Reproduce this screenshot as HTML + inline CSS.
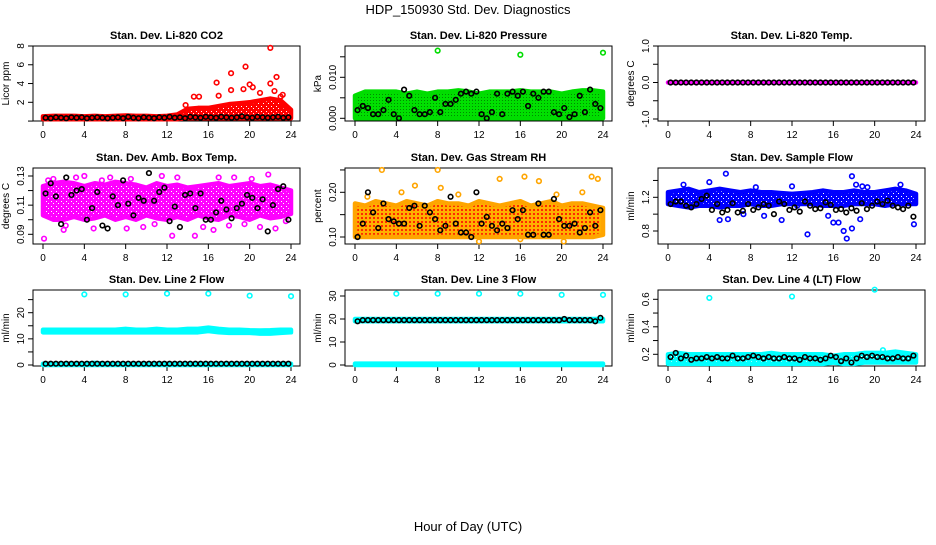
<!DOCTYPE html>
<html><head><meta charset="utf-8"><style>
html,body{margin:0;padding:0;background:#fff}
svg text{font-family:"Liberation Sans",Arial,sans-serif}
</style></head><body>
<svg id="c" width="936" height="540" viewBox="0 0 936 540" xmlns="http://www.w3.org/2000/svg">
<text x="468" y="14" font-size="13" text-anchor="middle">HDP_150930  Std. Dev. Diagnostics</text>
<text x="468" y="531" font-size="13" text-anchor="middle">Hour of Day (UTC)</text>
</svg>
<script>
// ---- data (hourly band envelopes: index = hour 0..24; black series: half-hourly) ----
const co2Lo=[0.2,0.2,0.2,0.2,0.2,0.2,0.2,0.2,0.2,0.2,0.2,0.2,0.2,0.2,0.3,0.3,0.3,0.3,0.3,0.3,0.3,0.3,0.3,0.3,0.3];
const co2Hi=[0.5,0.55,0.55,0.55,0.5,0.55,0.5,0.55,0.6,0.55,0.55,0.5,0.55,0.7,1.3,1.4,1.4,1.6,1.8,1.9,2.0,2.2,2.4,2.2,1.2];
const co2OutX=[13.8,14.6,15.1,16.8,17.0,18.2,18.2,19.4,19.6,20.0,20.3,21.0,22.0,22.0,22.4,22.6,23.0,23.2,23.3];
const co2OutY=[1.7,2.6,2.6,4.1,2.7,3.3,5.1,3.4,5.8,3.9,3.6,3.0,7.8,4.0,3.2,4.7,2.6,2.8,1.5];
const co2Black=[0.35,0.3,0.4,0.35,0.3,0.4,0.35,0.4,0.3,0.35,0.4,0.35,0.3,0.35,0.4,0.3,0.45,0.35,0.3,0.4,0.35,0.3,0.4,0.35,0.45,0.35,0.4,0.3,0.45,0.4,0.35,0.45,0.4,0.35,0.45,0.4,0.35,0.4,0.5,0.4,0.35,0.45,0.4,0.35,0.4,0.45,0.35,0.4];

const presLo=[0,0,0,0,0,0,0,0,0,0,0,0,0,0,0,0,0,0,0,0,0,0,0,0,0];
const presHi=[0.0055,0.0065,0.0065,0.0065,0.0065,0.006,0.0065,0.006,0.0065,0.0065,0.0068,0.0065,0.006,0.0065,0.0065,0.0065,0.0068,0.0065,0.0065,0.0065,0.006,0.0065,0.0068,0.0068,0.0065];
const presOutX=[8,16,24];
const presOutY=[0.0165,0.0155,0.016];
const presBlack=[0.002,0.003,0.0025,0.001,0.001,0.002,0.0045,0.001,0,0.007,0.0055,0.002,0.001,0.001,0.0015,0.005,0.0015,0.0035,0.0035,0.0045,0.006,0.0065,0.006,0.0065,0.001,0,0.0015,0.006,0.001,0.006,0.0065,0.0055,0.0065,0.003,0.006,0.005,0.0065,0.0065,0.0015,0.001,0.0025,0.0003,0.001,0.0055,0.0015,0.007,0.0035,0.0025];

const tempLo=[0,0,0,0,0,0,0,0,0,0,0,0,0,0,0,0,0,0,0,0,0,0,0,0,0];
const tempHi=[0,0,0,0,0,0,0,0,0,0,0,0,0,0,0,0,0,0,0,0,0,0,0,0,0];
const tempBlack=[0,0,0,0,0,0,0,0,0,0,0,0,0,0,0,0,0,0,0,0,0,0,0,0,0,0,0,0,0,0,0,0,0,0,0,0,0,0,0,0,0,0,0,0,0,0,0,0];

const boxLo=[0.103,0.1,0.1,0.102,0.1,0.101,0.103,0.1,0.102,0.1,0.103,0.101,0.1,0.102,0.1,0.103,0.101,0.1,0.103,0.102,0.1,0.103,0.101,0.102,0.104];
const boxHi=[0.123,0.125,0.126,0.125,0.123,0.125,0.124,0.126,0.125,0.124,0.122,0.125,0.123,0.124,0.122,0.123,0.124,0.125,0.123,0.124,0.125,0.123,0.124,0.122,0.12];
const boxOutX=[0.1,0.5,1,2,2.2,3.2,4,4.9,5.7,6.5,8.1,8.5,9.7,10.8,11.5,12.5,13,14.7,15.5,16.5,17,18,18.5,19.5,20.2,21,21.8,22.5,23.5];
const boxOutY=[0.087,0.127,0.128,0.093,0.096,0.129,0.13,0.094,0.127,0.129,0.094,0.128,0.095,0.097,0.13,0.089,0.129,0.089,0.095,0.093,0.129,0.096,0.129,0.097,0.128,0.095,0.131,0.094,0.099];
const boxBlack=[0.118,0.125,0.116,0.097,0.129,0.117,0.12,0.121,0.1,0.108,0.119,0.096,0.094,0.116,0.11,0.127,0.111,0.103,0.115,0.113,0.132,0.113,0.119,0.122,0.099,0.109,0.095,0.117,0.118,0.108,0.118,0.1,0.1,0.105,0.113,0.107,0.101,0.108,0.111,0.117,0.115,0.108,0.114,0.092,0.11,0.121,0.123,0.1];

const rhLo=[0.1,0.1,0.1,0.1,0.1,0.1,0.1,0.1,0.1,0.1,0.1,0.1,0.1,0.1,0.1,0.1,0.1,0.1,0.1,0.1,0.1,0.1,0.1,0.1,0.105];
const rhHi=[0.175,0.17,0.18,0.175,0.17,0.18,0.175,0.17,0.18,0.175,0.175,0.17,0.18,0.175,0.17,0.175,0.18,0.17,0.175,0.18,0.17,0.175,0.175,0.17,0.165];
const rhOutX=[1.2,2.6,4.5,5.8,8,8.3,10,12,14,16,16.4,17.8,19.5,20.2,22,22.9,23.5];
const rhOutY=[0.19,0.25,0.2,0.215,0.25,0.21,0.195,0.09,0.23,0.095,0.235,0.225,0.195,0.09,0.2,0.235,0.23];
const rhBlack=[0.1,0.13,0.2,0.155,0.12,0.175,0.14,0.135,0.13,0.13,0.165,0.17,0.125,0.17,0.155,0.14,0.115,0.125,0.19,0.13,0.11,0.11,0.1,0.2,0.13,0.145,0.125,0.115,0.13,0.12,0.16,0.14,0.16,0.105,0.105,0.175,0.105,0.105,0.185,0.14,0.125,0.125,0.13,0.11,0.12,0.155,0.125,0.16];

const flowLo=[1.12,1.1,1.08,1.1,1.1,1.08,1.1,1.1,1.12,1.1,1.1,1.12,1.12,1.12,1.12,1.1,1.1,1.1,1.12,1.12,1.12,1.1,1.12,1.12,1.12];
const flowHi=[1.26,1.28,1.3,1.26,1.28,1.3,1.28,1.26,1.28,1.26,1.26,1.25,1.24,1.25,1.26,1.28,1.26,1.26,1.28,1.26,1.26,1.28,1.3,1.28,1.24];
const flowOutX=[1.5,4,5.6,5,5.8,8.5,7.3,9.3,11,12,12.5,13.5,15.5,16,16.5,17,17.3,17.8,17.8,18.2,18.6,18.8,19.3,23.8,22.5];
const flowOutY=[1.35,1.38,1.48,0.93,0.94,1.32,1.0,0.98,0.93,1.33,1.1,0.76,0.98,0.9,0.9,0.8,0.71,0.83,1.45,1.35,0.94,1.33,1.32,0.88,1.35];
const flowBlack=[1.12,1.15,1.15,1.1,1.08,1.12,1.18,1.22,1.05,1.12,1.02,1.05,1.13,1.02,1.04,1.12,1.05,1.08,1.12,1.1,1.0,1.15,1.12,1.05,1.08,1.03,1.15,1.1,1.06,1.07,1.14,1.11,1.05,1.06,1.02,1.07,1.04,1.13,1.06,1.1,1.15,1.12,1.16,1.1,1.08,1.06,1.1,0.97];

const l2Lo=[12.5,12.5,12.5,12.5,12.5,12.5,12.5,12.5,12.5,12.5,12.5,12.5,12.5,12.5,12.5,12.5,13,12.5,12.3,12.3,12.3,12,12,12.3,12.5];
const l2Hi=[13.5,13.5,13.5,13.5,13.5,13.5,13.5,13.5,13.8,13.5,13.5,13.8,13.5,13.5,13.8,13.8,14.3,13.8,13.5,13.5,13.3,13.2,13.3,13.5,13.5];
const l2ZeroLo=[0,0,0,0,0,0,0,0,0,0,0,0,0,0,0,0,0,0,0,0,0,0,0,0,0];
const l2ZeroHi=[0.5,0.5,0.5,0.5,0.5,0.8,0.5,0.5,0.5,0.5,0.5,0.5,0.5,0.5,0.5,0.5,0.5,0.5,0.5,0.5,0.5,0.5,0.5,0.5,0.5];
const l2OutX=[4,8,12,16,20,24];
const l2OutY=[27,27,27.3,27.3,26.5,26.3];
const l2Black=[0.5,0.5,0.5,0.5,0.5,0.5,0.5,0.5,0.5,0.5,0.5,0.5,0.5,0.5,0.5,0.5,0.5,0.5,0.5,0.5,0.5,0.5,0.5,0.5,0.5,0.5,0.5,0.5,0.5,0.5,0.5,0.5,0.5,0.5,0.5,0.5,0.5,0.5,0.5,0.5,0.5,0.5,0.5,0.5,0.5,0.5,0.5,0.5];

const l3Lo=[19,19,19,19,19,19,19,19,19,19,19,19,19,19,19,19,19,19,19,19,19,19,19,19,19];
const l3Hi=[20,20,20,20,20,20,20,20,20,20,20,20,20,20,20,20,20,20,20,20,20,20,20,20,20];
const l3ZeroLo=[0,0,0,0,0,0,0,0,0,0,0,0,0,0,0,0,0,0,0,0,0,0,0,0,0];
const l3ZeroHi=[0.6,0.6,0.6,0.6,0.6,0.6,0.6,0.6,0.6,0.6,0.6,0.6,0.6,0.6,0.6,0.6,0.6,0.6,0.6,0.6,0.6,0.6,0.6,0.6,0.6];
const l3OutX=[4,8,12,16,20,24];
const l3OutY=[31,31,31,31,30.5,30.5];
const l3Black=[19,19.5,19.5,19.5,19.5,19.5,19.5,19.5,19.5,19.5,19.5,19.5,19.5,19.5,19.5,19.5,19.5,19.5,19.5,19.5,19.5,19.5,19.5,19.5,19.5,19.5,19.5,19.5,19.5,19.5,19.5,19.5,19.5,19.5,19.5,19.5,19.5,19.5,19.5,19.5,20,19.5,19.5,19.5,19.5,19.5,19,20.5];

const l4Lo=[0.13,0.13,0.13,0.13,0.13,0.13,0.13,0.13,0.13,0.13,0.13,0.13,0.13,0.13,0.13,0.13,0.14,0.13,0.13,0.14,0.14,0.14,0.14,0.14,0.14];
const l4Hi=[0.2,0.21,0.2,0.2,0.2,0.2,0.2,0.2,0.2,0.2,0.21,0.2,0.2,0.2,0.2,0.2,0.19,0.2,0.2,0.21,0.21,0.21,0.22,0.21,0.2];
const l4OutX=[4,12,20,20.8];
const l4OutY=[0.61,0.62,0.67,0.23];
const l4Black=[0.18,0.21,0.17,0.19,0.16,0.17,0.17,0.18,0.17,0.18,0.17,0.17,0.19,0.17,0.17,0.18,0.19,0.18,0.17,0.18,0.17,0.17,0.18,0.17,0.17,0.16,0.18,0.17,0.17,0.16,0.17,0.19,0.18,0.15,0.17,0.14,0.17,0.19,0.18,0.19,0.18,0.18,0.17,0.17,0.18,0.17,0.17,0.19];

// ---- panel layout ----
const svg=document.getElementById('c');
const NS='http://www.w3.org/2000/svg';
function mk(tag,attrs,parent){const e=document.createElementNS(NS,tag);for(const k in attrs)e.setAttribute(k,attrs[k]);(parent||svg).appendChild(e);return e;}
const colX0=[43,355,668], rowTop=[46,168,290], rowBot=[121,244,366];

function panel(o){
  const g=mk('g',{});
  
  
  const x0=colX0[o.col], x24=x0+248;
  const top=rowTop[o.row], bot=rowBot[o.row];
  const xs=h=>x0+h*(x24-x0)/24;
  const ys=v=>o.p1+(v-o.v1)*(o.p2-o.p1)/(o.v2-o.v1);
  const left=x0-10, right=x24+9;
  const t=mk('text',{x:(left+right)/2,y:top-7,'font-size':11,'font-weight':'bold','text-anchor':'middle'},g);
  t.textContent=o.title;
  
  
  const b=mk('rect',{x:left,y:top,width:right-left,height:bot-top,fill:'none',stroke:'#000','stroke-width':1},g);
  
  
  [0,4,8,12,16,20,24].forEach(h=>{
    mk('line',{x1:xs(h),x2:xs(h),y1:bot,y2:bot+5,stroke:'#000'},g);
    const l=mk('text',{x:xs(h),y:bot+17,'font-size':10,'text-anchor':'middle'},g);
    l.textContent=h;
    
    
  });
  o.ticks.forEach(v=>{mk('line',{x1:left,x2:left-5,y1:ys(v),y2:ys(v),stroke:'#000'},g);});
  o.labels.forEach((s,i)=>{
    const v=o.labelVals[i];
    const l=mk('text',{x:left-9,y:ys(v),'font-size':10,'text-anchor':'middle',transform:`rotate(-90 ${left-9} ${ys(v)})`},g);
    l.textContent=s;
    
    
  });
  const yt=mk('text',{x:left-24,y:(top+bot)/2,'font-size':10,'text-anchor':'middle',transform:`rotate(-90 ${left-24} ${(top+bot)/2})`},g);
  yt.textContent=o.ylab;
  
  
  (o.bands||[]).forEach(bd=>{
    let pts=[];
    bd.hi.forEach((v,i)=>pts.push(xs(i)+','+ys(v)));
    for(let i=bd.lo.length-1;i>=0;i--)pts.push(xs(i)+','+ys(bd.lo[i]));
    const p=mk('polygon',{points:pts.join(' '),fill:bd.fill||o.color,stroke:o.color,'stroke-width':4.5,'stroke-linejoin':'round'},g);
    
    
  });
  (o.outX||[]).forEach((h,i)=>{
    const c=mk('circle',{cx:xs(h),cy:ys(o.outY[i]),r:2.3,fill:'none',stroke:o.color,'stroke-width':1.6},g);
    
    
  });
  o.black.forEach((v,i)=>{
    const c=mk('circle',{cx:xs(0.25+i*0.5),cy:ys(v),r:2.3,fill:'none',stroke:'#000','stroke-width':1.6},g);
    
    
  });
}

const defs=mk('defs',{});
const pat=mk('pattern',{id:'rhPat',width:4,height:4,patternUnits:'userSpaceOnUse'},defs);
mk('rect',{width:4,height:4,fill:'#ffb000'},pat);
mk('rect',{x:1,y:1,width:2,height:2,fill:'#ff2a00'},pat);
const pat2=mk('pattern',{id:'grPat',width:3,height:3,patternUnits:'userSpaceOnUse'},defs);
mk('rect',{width:3,height:3,fill:'#00e000'},pat2);
mk('rect',{x:1,y:1,width:1,height:1,fill:'#008a00'},pat2);
function holePat(id,color,sz){
  const p=mk('pattern',{id:id,width:sz,height:sz,patternUnits:'userSpaceOnUse'},defs);
  mk('rect',{width:sz,height:sz,fill:color},p);
  mk('rect',{x:1,y:1,width:1,height:1,fill:'#fff'},p);
  mk('rect',{x:Math.floor(sz/2)+1,y:Math.floor(sz/2)+1,width:1,height:1,fill:'#fff'},p);
}
holePat('mgPat','#ff00ff',5);
holePat('bluePat','#0000ff',5);
holePat('cyPat','#00ffff',5);
holePat('redPat','#ff0000',5);

panel({name:'co2',col:0,row:0,title:'Stan. Dev. Li-820 CO2',ylab:'Licor ppm',color:'#ff0000',
  v1:8,p1:46,v2:2,p2:102.3,ticks:[0,2,4,6,8],labels:['2','4','6','8'],labelVals:[2,4,6,8],
  bands:[{lo:co2Lo,hi:co2Hi,fill:'url(#redPat)'}],outX:co2OutX,outY:co2OutY,black:co2Black});
panel({name:'pressure',col:1,row:0,title:'Stan. Dev. Li-820 Pressure',ylab:'kPa',color:'#00dd00',
  v1:0.010,p1:77.3,v2:0,p2:118.3,ticks:[0,0.005,0.010,0.015],labels:['0.000','0.010'],labelVals:[0,0.010],
  bands:[{lo:presLo,hi:presHi,fill:'url(#grPat)'}],outX:presOutX,outY:presOutY,black:presBlack});
panel({name:'li820-temp',col:2,row:0,title:'Stan. Dev. Li-820 Temp.',ylab:'degrees C',color:'#ff00ff',
  v1:1,p1:46,v2:-1,p2:119,ticks:[-1,-0.5,0,0.5,1],labels:['-1.0','0.0','1.0'],labelVals:[-1,0,1],
  bands:[{lo:tempLo,hi:tempHi}],outX:[],outY:[],black:tempBlack});
panel({name:'box-temp',col:0,row:1,title:'Stan. Dev. Amb. Box Temp.',ylab:'degrees C',color:'#ff00ff',
  v1:0.13,p1:176,v2:0.09,p2:234.3,ticks:[0.09,0.10,0.11,0.12,0.13],labels:['0.09','0.11','0.13'],labelVals:[0.09,0.11,0.13],
  bands:[{lo:boxLo,hi:boxHi,fill:'url(#mgPat)'}],outX:boxOutX,outY:boxOutY,black:boxBlack});
panel({name:'gas-rh',col:1,row:1,title:'Stan. Dev. Gas Stream RH',ylab:'percent',color:'#ffa500',
  v1:0.20,p1:192.3,v2:0.10,p2:237,ticks:[0.10,0.15,0.20,0.25],labels:['0.10','0.20'],labelVals:[0.10,0.20],
  bands:[{lo:rhLo,hi:rhHi,fill:'url(#rhPat)'}],outX:rhOutX,outY:rhOutY,black:rhBlack});
panel({name:'sample-flow',col:2,row:1,title:'Stan. Dev. Sample Flow',ylab:'ml/min',color:'#0000ff',
  v1:1.2,p1:197.3,v2:0.8,p2:231,ticks:[0.8,1.0,1.2,1.4],labels:['0.8','1.2'],labelVals:[0.8,1.2],
  bands:[{lo:flowLo,hi:flowHi,fill:'url(#bluePat)'}],outX:flowOutX,outY:flowOutY,black:flowBlack});
panel({name:'line2-flow',col:0,row:2,title:'Stan. Dev. Line 2 Flow',ylab:'ml/min',color:'#00ffff',
  v1:0,p1:365,v2:20,p2:312.7,ticks:[0,5,10,15,20,25],labels:['0','10','20'],labelVals:[0,10,20],
  bands:[{lo:l2Lo,hi:l2Hi},{lo:l2ZeroLo,hi:l2ZeroHi}],outX:l2OutX,outY:l2OutY,black:l2Black});
panel({name:'line3-flow',col:1,row:2,title:'Stan. Dev. Line 3 Flow',ylab:'ml/min',color:'#00ffff',
  v1:0,p1:365,v2:30,p2:296,ticks:[0,10,20,30],labels:['0','10','20','30'],labelVals:[0,10,20,30],
  bands:[{lo:l3Lo,hi:l3Hi},{lo:l3ZeroLo,hi:l3ZeroHi}],outX:l3OutX,outY:l3OutY,black:l3Black});
panel({name:'line4-flow',col:2,row:2,title:'Stan. Dev. Line 4 (LT) Flow',ylab:'ml/min',color:'#00ffff',
  v1:0.6,p1:299.3,v2:0.2,p2:354.3,ticks:[0.2,0.3,0.4,0.5,0.6],labels:['0.2','0.4','0.6'],labelVals:[0.2,0.4,0.6],
  bands:[{lo:l4Lo,hi:l4Hi,fill:'url(#cyPat)'}],outX:l4OutX,outY:l4OutY,black:l4Black});
</script>
</body></html>
